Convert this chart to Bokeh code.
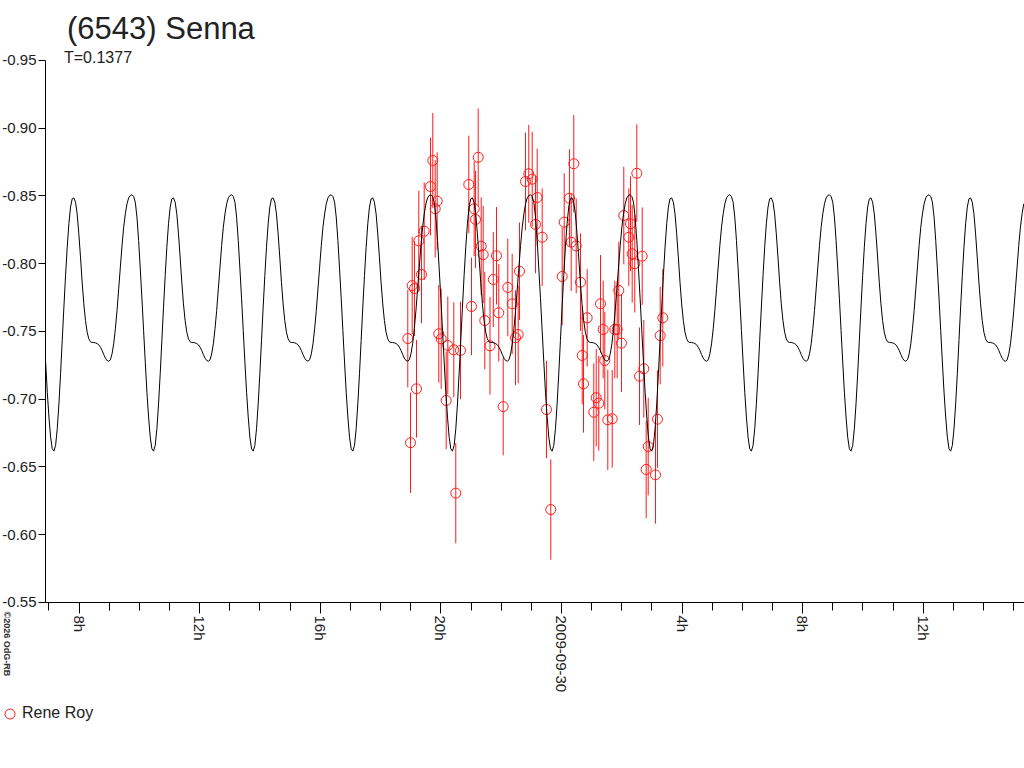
import math
from bokeh.plotting import figure
from bokeh.models import (Range1d, FixedTicker, PrintfTickFormatter, Label, LinearAxis,
                          Legend, LegendItem, ColumnDataSource)
from bokeh.embed import file_html
from bokeh.resources import INLINE

TITLE = "(6543) Senna"
SUBTITLE = "T=0.1377"
OBSERVER = "Rene Roy"
CREDIT = "\u00a92026 OdG-RB"

# observation times: hours from 2009-09-30 00:00 UT
obs_hours = [-5.098, -5.008, -4.952, -4.876, -4.809, -4.733, -4.643, -4.554, -4.345, -4.269,
             -4.189, -4.123, -4.070, -3.990, -3.824, -3.771, -3.572, -3.506, -3.350, -3.075,
             -2.985, -2.896, -2.852, -2.763, -2.663, -2.597, -2.544, -2.371, -2.262, -2.156,
             -2.080, -1.934, -1.781, -1.635, -1.526, -1.436, -1.393, -1.194, -1.085, -0.972,
             -0.862, -0.806, -0.640, -0.498, -0.355, 0.023, 0.090, 0.265, 0.322, 0.408,
             0.488, 0.630, 0.687, 0.730, 0.852, 1.071, 1.151, 1.237, 1.294, 1.383,
             1.436, 1.536, 1.682, 1.768, 1.847, 1.900, 1.990, 2.066, 2.232, 2.289,
             2.345, 2.431, 2.498, 2.587, 2.677, 2.730, 2.809, 2.876, 3.118, 3.184,
             3.274, 3.360]
obs_mag = [-0.7448, -0.6679, -0.7839, -0.7817, -0.7077, -0.8169, -0.7921, -0.8240, -0.8570, -0.8762,
           -0.8406, -0.8462, -0.7483, -0.7446, -0.6991, -0.7397, -0.7365, -0.6307, -0.7360, -0.8585,
           -0.7685, -0.8406, -0.8327, -0.8786, -0.8130, -0.8068, -0.7581, -0.7394, -0.7884, -0.8059,
           -0.7638, -0.6946, -0.7825, -0.7704, -0.7454, -0.7478, -0.7945, -0.8607, -0.8664, -0.8624,
           -0.8290, -0.8489, -0.8196, -0.6924, -0.6186, -0.7906, -0.8307, -0.8484, -0.8159, -0.8738,
           -0.8132, -0.7864, -0.7323, -0.7114, -0.7601, -0.6904, -0.7011, -0.6971, -0.7704, -0.7515,
           -0.7286, -0.6848, -0.6856, -0.7515, -0.7515, -0.7803, -0.7414, -0.8356, -0.8196, -0.8295,
           -0.8073, -0.8000, -0.8668, -0.7170, -0.8056, -0.7225, -0.6482, -0.6651, -0.6442, -0.6853,
           -0.7470, -0.7601]
obs_err = [0.036, 0.037, 0.036, 0.035, 0.036, 0.037, 0.036, 0.036, 0.036, 0.035,
           0.036, 0.036, 0.036, 0.037, 0.036, 0.036, 0.035, 0.037, 0.036, 0.036,
           0.036, 0.035, 0.036, 0.036, 0.036, 0.036, 0.036, 0.036, 0.035, 0.036,
           0.036, 0.036, 0.036, 0.037, 0.035, 0.036, 0.036, 0.036, 0.036, 0.035,
           0.036, 0.036, 0.036, 0.036, 0.037, 0.036, 0.036, 0.036, 0.036, 0.036,
           0.035, 0.036, 0.036, 0.036, 0.036, 0.036, 0.036, 0.035, 0.036, 0.036,
           0.036, 0.037, 0.036, 0.036, 0.036, 0.036, 0.036, 0.036, 0.036, 0.035,
           0.036, 0.036, 0.036, 0.036, 0.036, 0.036, 0.036, 0.036, 0.036, 0.036,
           0.036, 0.036]

# model lightcurve: one period (T days) sampled from a deep minimum
period_days = 0.1377
model_t0_hours = -13.53
model_shape = [-0.6617, -0.6659, -0.6782, -0.6966, -0.7188, -0.7434, -0.7680, -0.7913, -0.8122, -0.8295,
               -0.8418, -0.8479, -0.8486, -0.8454, -0.8368, -0.8221, -0.8049, -0.7864, -0.7704, -0.7581,
               -0.7495, -0.7446, -0.7424, -0.7419, -0.7419, -0.7416, -0.7411, -0.7402, -0.7384, -0.7360,
               -0.7330, -0.7303, -0.7286, -0.7281, -0.7291, -0.7335, -0.7409, -0.7520, -0.7655, -0.7815,
               -0.7975, -0.8135, -0.8270, -0.8368, -0.8442, -0.8486, -0.8504, -0.8509, -0.8496, -0.8454,
               -0.8344, -0.8172, -0.7962, -0.7741, -0.7507, -0.7274, -0.7052, -0.6868, -0.6720, -0.6634]

x_tick_hours = [-16, -12, -8, -4, 0, 4, 8, 12]
x_tick_labels = ["8h", "12h", "16h", "20h", "2009-09-30", "4h", "8h", "12h"]
x_minor_hours = list(range(-17, 16))
y_ticks = [-0.95, -0.90, -0.85, -0.80, -0.75, -0.70, -0.65, -0.60, -0.55]

# plotted time span (axis extent) and magnitude span
t_left, t_right = -17.114, 15.357
mag_top, mag_bottom = -0.95, -0.55

# whole canvas is the frame; these ranges put the plotted span where the reference has it
view_x = (-18.607, 15.357)
view_y = (-0.44815, -0.99428)

FONT = "Liberation Sans"
TXT = "#222222"
RED = "#ff1a1a"
W, H = 1024, 740

# tile the model period across the plotted span
P_h = period_days * 24.0
n = len(model_shape)
model_t, model_m = [], []
for k in range(-2, 10):
    for i, m in enumerate(model_shape):
        t = model_t0_hours + (k + i / n) * P_h
        if t_left <= t <= t_right:
            model_t.append(t)
            model_m.append(m)

p = figure(width=W, height=H, output_backend="svg", toolbar_location=None,
           x_range=Range1d(*view_x), y_range=Range1d(*view_y),
           x_axis_location=None, y_axis_location=None,
           min_border=0, min_border_left=0, min_border_right=0,
           min_border_top=0, min_border_bottom=0)
p.outline_line_color = None
p.xgrid.visible = False
p.ygrid.visible = False

xa = LinearAxis(fixed_location=mag_bottom, bounds=(t_left, t_right))
xa.ticker = FixedTicker(ticks=x_tick_hours, minor_ticks=x_minor_hours)
xa.major_label_overrides = dict(zip(x_tick_hours, x_tick_labels))
xa.major_label_orientation = -math.pi / 2
xa.major_tick_out = 11
xa.major_tick_in = 0
xa.minor_tick_out = 8
xa.minor_tick_in = 0
xa.major_label_standoff = 2
xa.major_label_text_font = FONT
xa.major_label_text_font_size = "15px"
xa.major_label_text_color = TXT
xa.axis_line_color = "black"
xa.major_tick_line_color = "black"
xa.minor_tick_line_color = "black"
p.add_layout(xa, "below")

ya = LinearAxis(fixed_location=t_left, bounds=(mag_top, mag_bottom))
ya.ticker = FixedTicker(ticks=y_ticks)
ya.formatter = PrintfTickFormatter(format="%.2f")
ya.major_tick_out = 7
ya.major_tick_in = 0
ya.minor_tick_out = 0
ya.minor_tick_in = 0
ya.major_label_standoff = 2
ya.major_label_text_font = FONT
ya.major_label_text_font_size = "15px"
ya.major_label_text_color = TXT
ya.axis_line_color = "black"
ya.major_tick_line_color = "black"
p.add_layout(ya, "left")

src = ColumnDataSource(dict(
    t=obs_hours, m=obs_mag,
    lo=[m - e for m, e in zip(obs_mag, obs_err)],
    hi=[m + e for m, e in zip(obs_mag, obs_err)],
))
p.segment(x0="t", y0="lo", x1="t", y1="hi", source=src, line_color=RED, line_width=1)
r_pts = p.scatter(x="t", y="m", source=src, marker="circle", size=10,
                  fill_color=None, line_color=RED, line_width=1)
p.line(model_t, model_m, line_color="black", line_width=1)

# texts (screen units: from the canvas bottom-left)
p.add_layout(Label(x=66.5, y=712.5, x_units="screen", y_units="screen", text=TITLE,
                   text_font=FONT, text_font_size="31px", text_color=TXT,
                   text_align="left", text_baseline="alphabetic"))
p.add_layout(Label(x=63.5, y=683, x_units="screen", y_units="screen", text=SUBTITLE,
                   text_font=FONT, text_font_size="16px", text_color=TXT,
                   text_align="left", text_baseline="alphabetic"))
p.add_layout(Label(x=6, y=129, x_units="screen", y_units="screen", text=CREDIT,
                   angle=-math.pi / 2, text_font=FONT, text_font_size="9px",
                   text_font_style="bold", text_color="#333333",
                   text_align="left", text_baseline="middle"))

legend = Legend(items=[LegendItem(label=OBSERVER, renderers=[r_pts])],
                location=(-3, 14.5), padding=0, margin=0, spacing=0,
                glyph_width=25, glyph_height=25, label_height=20, label_standoff=0,
                border_line_color=None, background_fill_alpha=0,
                label_text_font=FONT, label_text_font_size="16px", label_text_color=TXT)
p.add_layout(legend)

open("out.html", "w").write(file_html(p, INLINE))
